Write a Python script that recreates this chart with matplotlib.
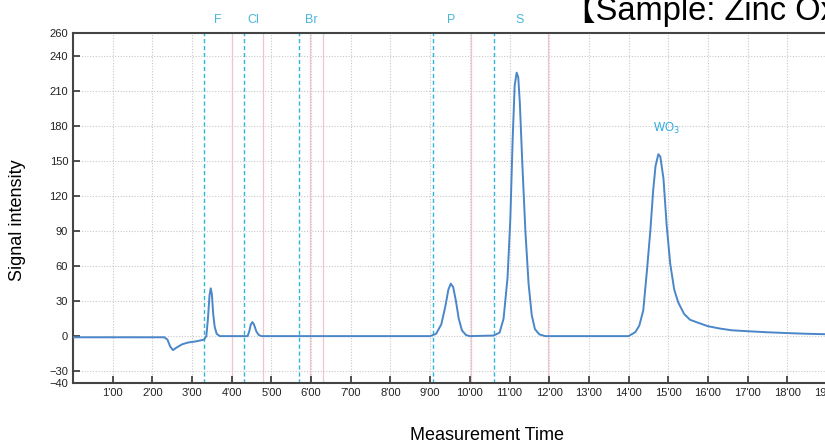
import matplotlib
matplotlib.use("Agg")
import matplotlib.pyplot as plt

plt.rcParams["font.family"] = ["Liberation Sans", "DejaVu Sans"]

# chromatogram trace (minutes, signal)
time_min = [0.0, 2.3, 2.38, 2.45, 2.52, 2.6, 2.75, 2.9, 3.1, 3.3, 3.36, 3.40, 3.44, 3.47,
            3.50, 3.53, 3.57, 3.62, 3.70, 4.40, 4.44, 4.48, 4.52, 4.56, 4.62, 4.68, 4.75,
            9.0, 9.15, 9.28, 9.38, 9.46, 9.52, 9.58, 9.65, 9.72, 9.80, 9.9, 10.0,
            10.6, 10.75, 10.85, 10.95, 11.02, 11.08, 11.13, 11.18, 11.22, 11.26, 11.32,
            11.40, 11.48, 11.56, 11.64, 11.75, 11.9, 14.0, 14.17, 14.27, 14.37, 14.46, 14.55,
            14.62, 14.68, 14.75, 14.8, 14.88, 14.96, 15.05, 15.15, 15.25, 15.4, 15.55,
            15.75, 16.0, 16.3, 16.6, 17.0, 17.5, 18.0, 18.5, 19.0, 20.0]
signal = [-1, -1, -3, -9, -12, -10, -7, -5.5, -4.5, -3, 0, 15, 35, 41,
          36, 20, 8, 2, 0, 0, 4, 10, 12, 10, 4, 1, 0,
          0, 2, 10, 25, 40, 45, 42, 30, 15, 5, 1, 0,
          0.5, 3, 15, 50, 100, 170, 215, 226, 222, 200, 150,
          90, 45, 18, 6, 1.5, 0, 0, 3.4, 9, 22, 55, 91,
          125, 146, 156, 154, 135, 95, 62, 40, 29, 19, 14,
          11.5, 8.5, 6.5, 5, 4.2, 3.3, 2.6, 2, 1.6, 1.2]

# element windows: start (cyan dashed) and end (pink) markers
elements = ["F", "Cl", "Br", "P", "S"]
win_start = [3.29, 4.30, 5.69, 9.06, 10.60]
win_end = [4.00, 4.80, 6.31, 10.02, 11.98]
extra_pink = [5.98]
label_x = [3.65, 4.55, 6.0, 9.53, 11.25]

y_ticks = [-40, -30, 0, 30, 60, 90, 120, 150, 180, 210, 240, 260]
x_ticks = list(range(1, 20))
x_labels = [f"{m}'00" for m in x_ticks]

fig = plt.figure(figsize=(8.25, 4.43), dpi=100)
ax = fig.add_axes([0.0885, 0.136, 0.962, 0.7895])

for x in x_ticks:
    ax.axvline(x, color="#c8c8c8", lw=0.8, ls=(0, (1, 1.5)), zorder=0)
for y in y_ticks[1:-1]:
    ax.axhline(y, color="#c8c8c8", lw=0.8, ls=(0, (1, 1.5)), zorder=0)

for x in win_end + extra_pink:
    ax.axvline(x, color="#f2c4cd", lw=0.9, zorder=1)
for x in win_start:
    ax.axvline(x, color="#2fb4d8", lw=1.0, ls=(0, (3, 2)), zorder=2)
for name, lx in zip(elements, label_x):
    ax.text(lx, 1.02, name, transform=ax.get_xaxis_transform(),
            ha="center", va="bottom", color="#49b6dc", fontsize=9)

ax.plot(time_min, signal, color="#4a86c8", lw=1.4, zorder=3)
ax.text(14.95, 172, "WO$_3$", color="#29a9e0", fontsize=8.5, ha="center", va="bottom")

ax.set_xlim(0, 20)
ax.set_ylim(-40, 260)
ax.set_yticks(y_ticks)
ax.set_xticks(x_ticks)
ax.set_xticklabels(x_labels)
ax.tick_params(direction="in", length=5, width=1.2, labelsize=8, colors="#333333",
               labelcolor="#222222")
for sp in ax.spines.values():
    sp.set_color("#444444")
    sp.set_linewidth(1.5)

fig.text(18 / 825, 1 - 220 / 443, "Signal intensity", fontsize=13, rotation=90,
         ha="center", va="center")
fig.text(487 / 825, 1 - 436 / 443, "Measurement Time", fontsize=13, ha="center", va="center")
fig.text(563 / 825, 1 - 20 / 443, "【Sample: Zinc Oxide】", fontsize=23.5, ha="left", va="baseline",
         family=["Liberation Sans", "Noto Sans CJK JP"])

fig.savefig("out.png", dpi=100)
